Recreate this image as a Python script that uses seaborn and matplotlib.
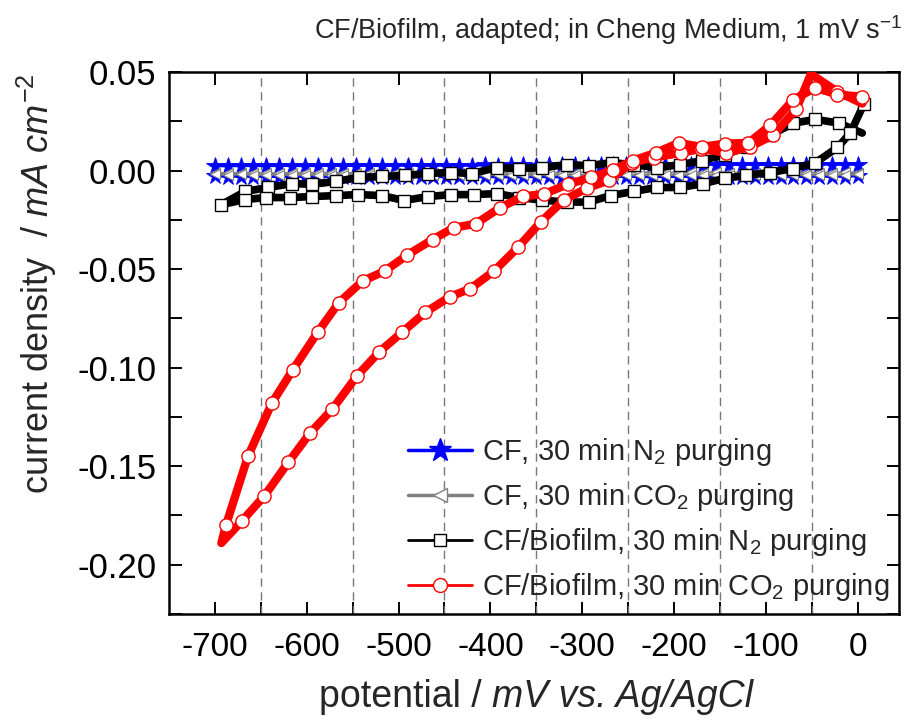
import matplotlib
matplotlib.use("Agg")
import matplotlib.pyplot as plt
from matplotlib.lines import Line2D
from matplotlib.offsetbox import TextArea, HPacker, AnchoredOffsetbox
import seaborn as sns
import pandas as pd

# ---------------- data ----------------
title_text = "CF/Biofilm, adapted; in Cheng Medium, 1 mV s$^{-1}$"
x_label_plain = "potential / "
x_label_italic = "mV vs. Ag/AgCl"
y_label = "current density  / $\\mathit{mA\\ cm^{-2}}$"
series_labels = ["CF, 30 min N$_2$ purging",
                 "CF, 30 min CO$_2$ purging",
                 "CF/Biofilm, 30 min N$_2$ purging",
                 "CF/Biofilm, 30 min CO$_2$ purging"]
x_ticks = [-700, -600, -500, -400, -300, -200, -100, 0]
y_ticks = [-0.20, -0.15, -0.10, -0.05, 0.00, 0.05]

# CF electrodes: forward row (-700 -> 0) and reverse row (0 -> -700)
cf_pot = [-700, -686, -672, -658, -644, -630, -616, -602, -588, -574, -560,
          -546, -532, -518, -504, -490, -476, -462, -448, -434, -420, -406,
          -392, -378, -364, -350, -336, -322, -308, -294, -280, -266, -252,
          -238, -224, -210, -196, -182, -168, -154, -140, -126, -112, -98,
          -84, -70, -56, -42, -28, -14, 0]
cf_n2_fwd = [0.0021, 0.0022, 0.0022, 0.0023, 0.0022, 0.0023, 0.0023, 0.0022,
             0.0023, 0.0024, 0.0023, 0.0024, 0.0024, 0.0023, 0.0024, 0.0025,
             0.0024, 0.0025, 0.0025, 0.0024, 0.0025, 0.0026, 0.0025, 0.0026,
             0.0026, 0.0025, 0.0026, 0.0027, 0.0026, 0.0027, 0.0027, 0.0026,
             0.0027, 0.0028, 0.0027, 0.0028, 0.0028, 0.0027, 0.0028, 0.0029,
             0.0028, 0.0029, 0.0029, 0.0028, 0.0029, 0.0030, 0.0029, 0.0030,
             0.0030, 0.0029, 0.0030]
cf_n2_rev = [-0.0030, -0.0031, -0.0032, -0.0031, -0.0032, -0.0033, -0.0032,
             -0.0031, -0.0032, -0.0033, -0.0032, -0.0033, -0.0034, -0.0033,
             -0.0032, -0.0033, -0.0034, -0.0033, -0.0032, -0.0033, -0.0034,
             -0.0033, -0.0034, -0.0035, -0.0034, -0.0033, -0.0034, -0.0035,
             -0.0034, -0.0033, -0.0034, -0.0035, -0.0034, -0.0033, -0.0034,
             -0.0035, -0.0034, -0.0033, -0.0034, -0.0035, -0.0034, -0.0033,
             -0.0034, -0.0033, -0.0032, -0.0033, -0.0032, -0.0031, -0.0032,
             -0.0031, -0.0030]
cf_co2_fwd = [-0.0012, -0.0013, -0.0012, -0.0011, -0.0012, -0.0013, -0.0012,
              -0.0011, -0.0012, -0.0011, -0.0012, -0.0013, -0.0012, -0.0011,
              -0.0012, -0.0011, -0.0010, -0.0011, -0.0012, -0.0011, -0.0010,
              -0.0011, -0.0010, -0.0011, -0.0012, -0.0011, -0.0010, -0.0011,
              -0.0010, -0.0009, -0.0010, -0.0011, -0.0010, -0.0009, -0.0010,
              -0.0011, -0.0010, -0.0009, -0.0010, -0.0009, -0.0010, -0.0011,
              -0.0010, -0.0009, -0.0010, -0.0009, -0.0010, -0.0011, -0.0010,
              -0.0009, -0.0010]
cf_co2_rev = [-0.0020, -0.0021, -0.0022, -0.0021, -0.0022, -0.0023, -0.0022,
              -0.0021, -0.0022, -0.0023, -0.0022, -0.0023, -0.0022, -0.0021,
              -0.0022, -0.0023, -0.0022, -0.0023, -0.0024, -0.0023, -0.0022,
              -0.0023, -0.0024, -0.0023, -0.0022, -0.0023, -0.0024, -0.0023,
              -0.0022, -0.0023, -0.0024, -0.0023, -0.0022, -0.0023, -0.0024,
              -0.0023, -0.0022, -0.0023, -0.0022, -0.0021, -0.0022, -0.0023,
              -0.0022, -0.0021, -0.0022, -0.0021, -0.0022, -0.0021, -0.0020,
              -0.0021, -0.0020]

# CF/Biofilm, N2 (one loop)
bio_n2_pot = [5, -20, -46, -70, -95, -120, -145, -170, -193, -219, -244, -268,
              -293, -317, -344, -369, -393, -420, -443, -468, -493, -518, -543,
              -568, -594, -616, -642, -667, -693,
              -667, -644, -618, -594, -568, -544, -518, -494, -468, -443, -418,
              -393, -369, -344, -317, -293, -269, -244, -219, -193, -168, -145,
              -122, -96, -70, -46, -22, -8, 7]
bio_n2_cur = [0.019, 0.024, 0.026, 0.024, 0.018, 0.012, 0.008, 0.005, 0.003,
              0.0015, 0.003, 0.004, 0.0025, 0.003, 0.0015, 0.001, 0.0015,
              -0.0015, -0.001, -0.0015, -0.0025, -0.003, -0.0035, -0.0055,
              -0.007, -0.0066, -0.0086, -0.0106, -0.0173,
              -0.0147, -0.0137, -0.0137, -0.0132, -0.0127, -0.0122, -0.0127,
              -0.0152, -0.0132, -0.0122, -0.0122, -0.0117, -0.0137, -0.015,
              -0.016, -0.016, -0.0127, -0.0106, -0.0086, -0.0086, -0.0066,
              -0.004, -0.0025, -0.001, 0.001, 0.004, 0.0117, 0.019, 0.034]

# CF/Biofilm, CO2 (one loop)
bio_co2_pot = [5, -22, -51, -67, -92, -117, -143, -171, -192, -222, -246, -271,
               -295, -320, -345, -370, -396, -422, -444, -471, -496, -521,
               -545, -572, -596, -620, -646, -671, -693,
               -688, -664, -638, -615, -588, -565, -539, -515, -491, -463,
               -440, -416, -390, -364, -342, -316, -290, -266, -245, -220,
               -195, -170, -144, -119, -95, -70, -46, -22, 5]
bio_co2_cur = [0.034, 0.040, 0.049, 0.031, 0.018, 0.012, 0.009, 0.011, 0.009,
               0.0066, 0.004, -0.005, -0.009, -0.015, -0.026, -0.039, -0.051,
               -0.060, -0.064, -0.072, -0.082, -0.092, -0.104, -0.121, -0.133,
               -0.148, -0.165, -0.178, -0.189,
               -0.180, -0.145, -0.118, -0.101, -0.082, -0.067, -0.056, -0.051,
               -0.043, -0.035, -0.029, -0.027, -0.019, -0.013, -0.012, -0.007,
               -0.0035, 0.0005, 0.005, 0.009, 0.014, 0.012, 0.0137, 0.014,
               0.023, 0.036, 0.042, 0.0385, 0.0375]

# ---------------- style ----------------
sns.set_theme(style="ticks")
plt.rcParams["font.family"] = ["Liberation Sans", "DejaVu Sans"]
plt.rcParams["mathtext.fontset"] = "custom"
plt.rcParams["mathtext.rm"] = "Liberation Sans"
plt.rcParams["mathtext.it"] = "Liberation Sans:italic"
plt.rcParams["mathtext.bf"] = "Liberation Sans:bold"
plt.rcParams["axes.unicode_minus"] = False

fig = plt.figure(figsize=(9.06, 7.22), dpi=100)
ax = fig.add_axes([169 / 906, 1 - 614 / 722, (899 - 169) / 906, (614 - 72) / 722])

def cv(pot, cur):
    return pd.DataFrame({"pot": pot, "cur": cur})

# CF N2 (blue stars)
for ys in (cf_n2_fwd, cf_n2_rev[::-1]):
    sns.lineplot(data=cv(cf_pot, ys), x="pot", y="cur", sort=False, estimator=None,
                 ax=ax, color="#0000ff", lw=1.5, marker="*", markersize=13,
                 markeredgewidth=0.6, markerfacecolor="#0000ff",
                 markeredgecolor="#0000ff", zorder=3)
# CF CO2 (gray left triangles)
for ys in (cf_co2_fwd, cf_co2_rev[::-1]):
    sns.lineplot(data=cv(cf_pot, ys), x="pot", y="cur", sort=False, estimator=None,
                 ax=ax, color="#808080", lw=1.5, marker="<", markersize=7,
                 markeredgewidth=0.8, markerfacecolor="white",
                 markeredgecolor="#808080", zorder=3.5)
# CF/Biofilm N2 (black squares)
sns.lineplot(data=cv(bio_n2_pot, bio_n2_cur), x="pot", y="cur", sort=False,
             estimator=None, ax=ax, color="black", lw=5.5, marker="s",
             markersize=9, markeredgewidth=1.0, markerfacecolor="white",
             markeredgecolor="black", markevery=list(range(1, len(bio_n2_pot))),
             zorder=4)
# CF/Biofilm CO2 (red circles)
red_marks = [i for i in range(len(bio_co2_pot)) if i not in (0, 2, 28)]
sns.lineplot(data=cv(bio_co2_pot, bio_co2_cur), x="pot", y="cur", sort=False,
             estimator=None, ax=ax, color="#ff0000", lw=6, marker="o",
             markersize=9.5, markeredgewidth=1.0, markerfacecolor="white",
             markeredgecolor="#ff0000", markevery=red_marks, zorder=5)

# axes
ax.set_xlim(-750, 45)
ax.set_ylim(-0.225, 0.05)
ax.set_xticks(x_ticks)
ax.set_xticklabels([str(v) for v in x_ticks])
ax.set_xticks([-650, -550, -450, -350, -250, -150, -50], minor=True)
ax.set_yticks(y_ticks)
ax.set_yticklabels([f"{v:.2f}" for v in y_ticks])
ax.set_yticks([-0.225, -0.175, -0.125, -0.075, -0.025, 0.025], minor=True)
ax.tick_params(axis="both", which="both", direction="in", length=9, width=1.4,
               colors="black")
ax.tick_params(axis="x", which="both", bottom=True, top=False, labelsize=24, pad=13)
ax.tick_params(axis="x", which="major", top=True)
ax.tick_params(axis="y", which="both", left=True, right=True, labelsize=25, pad=9)
for v in [-650, -550, -450, -350, -250, -150, -50]:
    ax.axvline(v, color="#777777", lw=1.0, ls=(0, (6, 4)), zorder=1)
for s in ax.spines.values():
    s.set_linewidth(1.8)
    s.set_color("black")

# x label: plain + italic parts
ax.set_xlabel("")
xl_box = HPacker(children=[TextArea(x_label_plain, textprops=dict(fontsize=27)),
                           TextArea(x_label_italic, textprops=dict(fontsize=27, style="italic"))],
                 align="baseline", pad=0, sep=0)
xl_anchor = AnchoredOffsetbox(loc="center", child=xl_box, frameon=False, pad=0,
                              borderpad=0, bbox_to_anchor=(536 / 906, 1 - 697 / 722),
                              bbox_transform=fig.transFigure)
fig.add_artist(xl_anchor)

ax.set_ylabel(y_label, fontsize=26)
ax.yaxis.set_label_coords(-0.15, 0.61)
fig.text(608 / 906, 1 - 30 / 722, title_text, ha="center", va="center",
         fontsize=19.5)

handles = [
    Line2D([], [], color="#0000ff", lw=2.5, marker="*", markersize=17,
           markerfacecolor="#0000ff", markeredgecolor="#0000ff"),
    Line2D([], [], color="#808080", lw=2.5, marker="<", markersize=10,
           markerfacecolor="white", markeredgecolor="#808080"),
    Line2D([], [], color="black", lw=2.0, marker="s", markersize=9,
           markerfacecolor="white", markeredgecolor="black"),
    Line2D([], [], color="#ff0000", lw=2.0, marker="o", markersize=10,
           markerfacecolor="white", markeredgecolor="#ff0000"),
]
ax.legend(handles, series_labels, loc="upper left",
          bbox_to_anchor=(408 / 906, 1 - 436 / 722),
          bbox_transform=fig.transFigure, frameon=False, fontsize=21,
          handlelength=2.2, handletextpad=0.35, labelspacing=0.45,
          borderpad=0, borderaxespad=0)

fig.savefig("out.png", dpi=100)
